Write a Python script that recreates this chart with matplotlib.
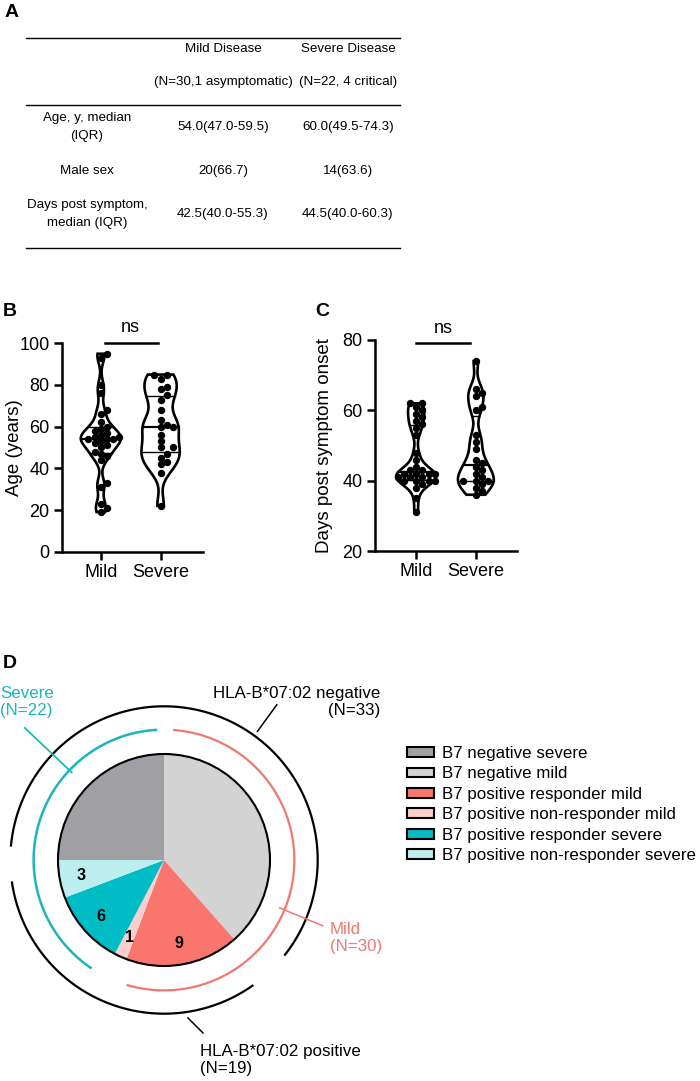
import numpy as np
import matplotlib.pyplot as plt
from matplotlib.patches import Polygon, Patch, Circle

plt.rcParams['font.family'] = ['Liberation Sans', 'DejaVu Sans']

# ---------------- данные ----------------
# A: таблица
col_titles = ['Mild Disease', 'Severe Disease']
col_subtitles = ['(N=30,1 asymptomatic)', '(N=22, 4 critical)']
row_labels = ['Age, y, median\n(IQR)', 'Male sex', 'Days post symptom,\nmedian (IQR)']
mild_cells = ['54.0(47.0-59.5)', '20(66.7)', '42.5(40.0-55.3)']
severe_cells = ['60.0(49.5-74.3)', '14(63.6)', '44.5(40.0-60.3)']

# B: возраст
groups = ['Mild', 'Severe']
age_mild = [19, 21, 23, 31, 33, 44, 46, 47, 48, 50, 51, 52, 53, 54, 54,
            54, 55, 55, 56, 57, 58, 59, 60, 62, 66, 68, 76, 80, 93, 95]
age_severe = [22, 38, 42, 43, 45, 47, 50, 50, 53, 56, 60, 60, 61, 63, 68,
              73, 75, 78, 79, 83, 85, 85]

# C: дни после начала симптомов
days_mild = [31, 35, 38, 39, 40, 40, 40, 40, 41, 41, 41, 42, 42, 42, 42,
             43, 43, 44, 46, 48, 53, 55, 56, 57, 58, 59, 60, 61, 62, 62]
days_severe = [36, 37, 38, 39, 40, 40, 40, 41, 42, 43, 44, 45, 46, 49, 51,
               53, 60, 61, 64, 65, 66, 74]

# D: круговая диаграмма (порядок легенды)
pie_groups = ['B7 negative severe', 'B7 negative mild', 'B7 positive responder mild',
              'B7 positive non-responder mild', 'B7 positive responder severe',
              'B7 positive non-responder severe']
pie_counts = [13, 20, 9, 1, 6, 3]
pie_colors = ['#9f9fa4', '#d3d3d3', '#f8766d', '#f8cfcd', '#00bcc4', '#bceef0']
pie_order = [1, 2, 3, 4, 5, 0]          # по часовой стрелке от верха
shown_counts = [2, 3, 4, 5]             # подписанные сектора

TEAL = '#1cb5be'
SALMON = '#f07870'

W, H = 700, 1081
fig = plt.figure(figsize=(W / 100, H / 100), dpi=100)


def fx(px):
    return px / W


def fy(py):
    return 1 - py / H


# ---------------- A ----------------
fig.text(fx(5), fy(4), 'A', fontsize=14, fontweight='bold', va='top')
for yl in (38, 105, 248):
    fig.add_artist(plt.Line2D([fx(26), fx(400)], [fy(yl), fy(yl)], color='black', lw=1))
tfs = 9.6
for cx, t, s in zip((223, 348), col_titles, col_subtitles):
    fig.text(fx(cx), fy(49), t, fontsize=tfs, ha='center', va='center')
    fig.text(fx(cx), fy(82), s, fontsize=tfs, ha='center', va='center')
for ry, lab, m, s in zip((127, 171, 214), row_labels, mild_cells, severe_cells):
    fig.text(fx(87), fy(ry), lab, fontsize=tfs, ha='center', va='center', linespacing=1.6)
    fig.text(fx(223), fy(ry), m, fontsize=tfs, ha='center', va='center')
    fig.text(fx(348), fy(ry), s, fontsize=tfs, ha='center', va='center')


# ---------------- B, C ----------------
def violin(ax, pos, vals, bw, halfw):
    vals = np.asarray(vals, float)
    y = np.linspace(vals.min(), vals.max(), 300)
    d = np.exp(-0.5 * ((y[:, None] - vals[None, :]) / bw) ** 2).sum(1)
    w = d / d.max() * halfw
    xs = np.concatenate([pos + w, (pos - w)[::-1]])
    ys = np.concatenate([y, y[::-1]])
    ax.add_patch(Polygon(np.column_stack([xs, ys]), closed=True, fc='white',
                         ec='black', lw=1.9, zorder=2))
    for q, lw in ((25, 1.0), (50, 1.6), (75, 1.0)):
        qv = np.percentile(vals, q)
        wq = np.interp(qv, y, w)
        ax.plot([pos - wq, pos + wq], [qv, qv], color='black', lw=lw, zorder=3)
    # раскладка точек без наложений
    step = 6.2
    placed = []
    xs_out, ys_out = [], []
    for v in np.sort(vals):
        px, py = ax.transData.transform((pos, v))
        k = 0
        while True:
            off = ((k + 1) // 2) * step * (1 if k % 2 else -1) if k else 0
            cand = (px + off, py)
            if all((cand[0] - a) ** 2 + (cand[1] - b) ** 2 >= step ** 2 for a, b in placed):
                break
            k += 1
        placed.append(cand)
        dx, dy = ax.transData.inverted().transform(cand)
        xs_out.append(dx)
        ys_out.append(dy)
    ax.plot(xs_out, ys_out, 'o', color='black', ms=4.3, zorder=4)


def style_axes(ax):
    for side in ('top', 'right'):
        ax.spines[side].set_visible(False)
    for side in ('left', 'bottom'):
        ax.spines[side].set_linewidth(1.8)
    ax.tick_params(width=1.8, length=6, labelsize=13, pad=3)
    ax.set_xticks([1, 2])
    ax.set_xticklabels(groups)


axB = fig.add_axes([fx(62), fy(551.7), 141 / W, 208.4 / H])
axB.set_xlim(0.35, 2.71)
axB.set_ylim(0, 100)
axB.set_yticks([0, 20, 40, 60, 80, 100])
style_axes(axB)
axB.set_ylabel('Age (years)', fontsize=13.5)
axB.yaxis.set_label_coords(-0.28, 0.5)
violin(axB, 1, age_mild, 3.5, 0.335)
violin(axB, 2, age_severe, 5.0, 0.32)
axB.plot([1.07, 1.96], [100, 100], color='black', lw=1.8, clip_on=False)
axB.text(1.5, 105.6, 'ns', fontsize=13, ha='center', va='baseline')
fig.text(fx(3), fy(303), 'B', fontsize=14, fontweight='bold', va='top')

axC = fig.add_axes([fx(375), fy(551), 142 / W, 211 / H])
axC.set_xlim(0.31, 2.69)
axC.set_ylim(20, 80)
axC.set_yticks([20, 40, 60, 80])
style_axes(axC)
axC.set_ylabel('Days post symptom onset', fontsize=13.5)
axC.yaxis.set_label_coords(-0.295, 0.5)
violin(axC, 1, days_mild, 2.0, 0.335)
violin(axC, 2, days_severe, 2.6, 0.30)
axC.plot([1.0, 1.9], [79.1, 79.1], color='black', lw=1.8, clip_on=False)
axC.text(1.45, 82.1, 'ns', fontsize=13, ha='center', va='baseline')
fig.text(fx(315), fy(303), 'C', fontsize=14, fontweight='bold', va='top')

# ---------------- D ----------------
fig.text(fx(3), fy(655), 'D', fontsize=14, fontweight='bold', va='top')
R = 106.0
cx, cy = 164, 860
axD = fig.add_axes([0, fy(1081), 400 / W, 441 / H])
vals = [pie_counts[i] for i in pie_order]
cols = [pie_colors[i] for i in pie_order]
axD.pie(vals, colors=cols, startangle=90, counterclock=False, radius=1,
        wedgeprops=dict(linewidth=0), frame=True)
axD.add_patch(Circle((0, 0), 1, fill=False, ec='black', lw=1.5, zorder=3))
axD.set_xlim(-cx / R, (400 - cx) / R)
axD.set_ylim((cy - 1081) / R, (cy - 640) / R)
axD.set_aspect('equal')
axD.axis('off')

total = sum(vals)
theta = 90 - 360 * np.concatenate([[0], np.cumsum(vals)]) / total
for k, gi in enumerate(pie_order):
    if gi in shown_counts:
        mid = np.radians((theta[k] + theta[k + 1]) / 2)
        axD.text(0.8 * np.cos(mid), 0.8 * np.sin(mid), str(pie_counts[gi]),
                 fontsize=11.5, fontweight='bold', ha='center', va='center')


def arc(r, a0, a1, g0, g1, **kw):
    t = np.radians(np.linspace(a0 - g0, a1 + g1, 300))
    axD.plot(r * np.cos(t), r * np.sin(t), solid_capstyle='butt', **kw)


# тяжесть: mild = позиции 0..2, severe = 3..5
arc(1.23, theta[0], theta[3], 4, 11, color=SALMON, lw=1.6)
arc(1.23, theta[3], theta[6], 6, 3, color=TEAL, lw=1.8)
# HLA: negative = позиции 5 и 0, positive = 1..4
arc(1.45, theta[5] + 360, theta[1], 5, 10, color='black', lw=1.6)
arc(1.45, theta[1], theta[5], 6, 8, color='black', lw=1.6)


def radial(a, r0, r1, **kw):
    t = np.radians(a)
    axD.plot([r0 * np.cos(t), r1 * np.cos(t)], [r0 * np.sin(t), r1 * np.sin(t)], **kw)


radial(54, 1.5, 1.81, color='black', lw=1.1)
radial(136.5, 1.2, 1.81, color=TEAL, lw=1.3)
radial(-22.5, 1.18, 1.62, color=SALMON, lw=1.1)
axD.plot([0.226, 0.368], [-1.49, -1.632], color='black', lw=1.1)

dfs = 12.2
axD.text((380 - cx) / R, (cy - 702) / R, 'HLA-B*07:02 negative\n(N=33)', fontsize=dfs,
         ha='right', va='center', multialignment='right', clip_on=False)
axD.text((200 - cx) / R, (cy - 1060) / R, 'HLA-B*07:02 positive\n(N=19)', fontsize=dfs,
         ha='left', va='center', clip_on=False)
axD.text((0 - cx) / R, (cy - 702) / R, 'Severe\n(N=22)', fontsize=dfs, color=TEAL,
         ha='left', va='center', clip_on=False)
axD.text((330 - cx) / R, (cy - 938) / R, 'Mild\n(N=30)', fontsize=dfs, color=SALMON,
         ha='left', va='center', clip_on=False)

handles = [Patch(fc=c, ec='black', lw=1.5, label=l) for c, l in zip(pie_colors, pie_groups)]
fig.legend(handles=handles, loc='upper left', bbox_to_anchor=(fx(407), fy(746)),
           frameon=False, fontsize=dfs, handlelength=1.6, handleheight=0.5,
           handletextpad=0.45, labelspacing=0.32, borderpad=0, borderaxespad=0)

fig.savefig('out.png', dpi=100, facecolor='white')
